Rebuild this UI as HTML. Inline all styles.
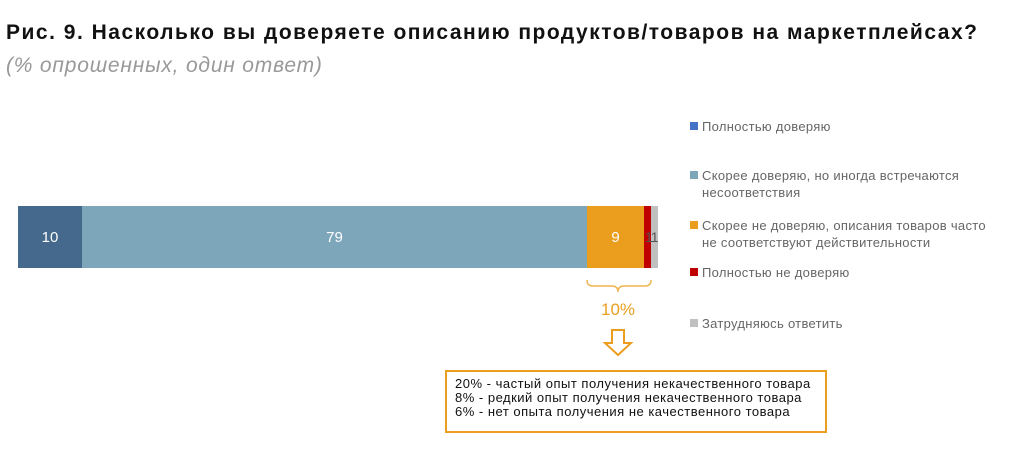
<!DOCTYPE html>
<html><head><meta charset="utf-8"><style>
body{margin:0;width:1024px;height:459px;background:#fff;font-family:"Liberation Sans",sans-serif;position:relative;overflow:hidden}
.a{position:absolute}
.t{left:6px;top:21px;font-size:21px;letter-spacing:1.5px;font-weight:bold;color:#111;white-space:nowrap}
.s{left:6px;top:54px;font-size:21px;letter-spacing:0.8px;font-style:italic;color:#999}
.seg{position:absolute;top:206px;height:62px;color:#fff;font-size:15px;display:flex;align-items:center;justify-content:center}
.lg{position:absolute;left:690px;font-size:13px;letter-spacing:0.3px;color:#666;line-height:17px;white-space:nowrap}
.lg i{position:absolute;left:0;top:4px;width:8px;height:8px}
.lg span{margin-left:12px;display:block}
</style></head><body>
<div class="a t">Рис. 9. Насколько вы доверяете описанию продуктов/товаров на маркетплейсах?</div>
<div class="a s">(% опрошенных, один ответ)</div>
<div class="seg" style="left:18px;width:64px;background:#44698c">10</div>
<div class="seg" style="left:82px;width:505px;background:#7ea6bb">79</div>
<div class="seg" style="left:587px;width:57px;background:#eb9e1e">9</div>
<div class="seg" style="left:644px;width:7px;background:#c00000"></div>
<div class="seg" style="left:651px;width:7px;background:#c0c0c0"></div>
<div class="a" style="left:645px;top:229px;font-size:14px;color:#555;letter-spacing:-1px">11</div>
<svg class="a" style="left:0;top:0" width="1024" height="459">
<path d="M587 280 Q587 286 593 286 L612 286 Q618 286 618 292 Q618 286 624 286 L645 286 Q651 286 651 280" fill="none" stroke="#f0b450" stroke-width="1.5"/>
<path d="M612 330 L624 330 L624 343 L631 343 L618 355 L605 343 L612 343 Z" fill="none" stroke="#eb9e1e" stroke-width="2"/>
<rect x="446" y="371" width="380" height="61" fill="none" stroke="#eb9e1e" stroke-width="2"/>
</svg>
<div class="a" style="left:601px;top:300px;font-size:17px;color:#eb9e1e">10%</div>
<div class="a" style="left:455px;top:377px;font-size:13px;letter-spacing:0.5px;line-height:14px;color:#111;white-space:nowrap">20% - частый опыт получения некачественного товара<br>8% - редкий опыт получения некачественного товара<br>6% - нет опыта получения не качественного товара</div>
<div class="lg" style="top:118px"><i style="background:#4472c4"></i><span>Полностью доверяю</span></div>
<div class="lg" style="top:167px"><i style="background:#7ea6bb"></i><span>Скорее доверяю, но иногда встречаются<br>несоответствия</span></div>
<div class="lg" style="top:217px"><i style="background:#eb9e1e"></i><span>Скорее не доверяю, описания товаров часто<br>не соответствуют действительности</span></div>
<div class="lg" style="top:264px"><i style="background:#c00000"></i><span>Полностью не доверяю</span></div>
<div class="lg" style="top:315px"><i style="background:#c0c0c0"></i><span>Затрудняюсь ответить</span></div>
</body></html>
